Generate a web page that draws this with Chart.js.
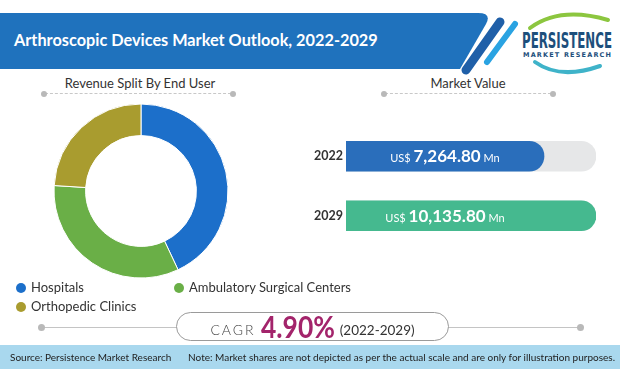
<!DOCTYPE html>
<html>
<head>
<meta charset="utf-8">
<script src="https://cdn.jsdelivr.net/npm/chart.js@4"></script>
<style>
  html, body { margin: 0; padding: 0; }
  body { width: 620px; height: 369px; position: relative; overflow: hidden; background: #fff; font-family: Lato, "Open Sans", sans-serif; color: #333; }
  .abs { position: absolute; }
  .title { color: #fff; font-weight: bold; font-size: 16.3px; left: 14px; top: 30px; }
  .sec { font-size: 13px; color: #333; text-align: center; }
  .dash { height: 0; border-top: 1.5px dashed #c8c8c8; }
  .dot { width: 6px; height: 6px; border-radius: 50%; background: #b9b9b9; }
  #legend { left: 16px; top: 279px; display: grid; grid-template-columns: 158px auto; row-gap: 3px; font-size: 13px; color: #333; }
  #legend div { line-height: 16px; }
  #legend span.sw { display: inline-block; width: 10px; height: 10px; border-radius: 50%; margin-right: 5px; vertical-align: -1px; }
  .pill { left: 176px; top: 312px; width: 271px; height: 27px; border: 1px solid #9a9a9a; border-radius: 15px; background: #fff; text-align: center; white-space: nowrap; }
  .big { display: inline-block; font-size: 30px; font-weight: bold; color: #a3246b; line-height: 27px; transform: scaleX(0.88); margin: 0 -4px; }
  .footer { left: 0; top: 345px; width: 620px; height: 24px; background: #a9d8ee; font-size: 10px; color: #222; }
</style>
</head>
<body>
<svg class="abs" style="left:0;top:0" width="620" height="100">
  <path d="M0 13 H478 Q492 13 486 24 L460 69 H0 Z" fill="#1f72bd"/>
  <line x1="466" y1="70" x2="500" y2="22" stroke="#1f5fa8" stroke-width="9" stroke-linecap="round"/>
  <line x1="487" y1="62" x2="515" y2="24" stroke="#2aa3e2" stroke-width="6" stroke-linecap="round"/>
  <path d="M530 28 Q560 6 608 20" fill="none" stroke="#8cc63f" stroke-width="4" stroke-linecap="round"/>
  <path d="M535 62 Q560 80 600 66" fill="none" stroke="#3fb3c9" stroke-width="4" stroke-linecap="round"/>
  <text x="522" y="48" font-family="'Liberation Sans Narrow','DejaVu Sans Condensed',sans-serif" font-weight="bold" font-size="22" fill="#1d4f7c" textLength="90" lengthAdjust="spacingAndGlyphs">PERSISTENCE</text>
  <text x="523" y="57" font-family="'DejaVu Sans',sans-serif" font-weight="bold" font-size="6.5" fill="#1d4f7c" textLength="88" lengthAdjust="spacing">MARKET RESEARCH</text>
</svg>
<div class="abs title">Arthroscopic Devices Market Outlook, 2022-2029</div>

<div class="abs sec" style="left:40px;top:75px;width:200px">Revenue Split By End User</div>
<div class="abs dash" style="left:45px;top:93px;width:186px"></div>
<div class="abs dot" style="left:41px;top:91px"></div>
<div class="abs dot" style="left:230px;top:91px"></div>

<div class="abs sec" style="left:368px;top:75px;width:200px">Market Value</div>
<div class="abs dash" style="left:385px;top:93px;width:166px"></div>
<div class="abs dot" style="left:381px;top:91px"></div>
<div class="abs dot" style="left:550px;top:91px"></div>

<div class="abs" style="left:0;top:101px;width:282px;height:180px"><canvas id="donut"></canvas></div>
<div id="legend" class="abs"></div>

<div class="abs" style="left:300px;top:116px;width:296px;height:140px"><canvas id="bars"></canvas></div>

<div class="abs" style="left:43px;top:327px;width:536px;height:1px;background:#c4c4c4"></div>
<div class="abs dot" style="left:38px;top:324px;width:7px;height:7px"></div>
<div class="abs dot" style="left:577px;top:324px;width:7px;height:7px"></div>
<div class="abs pill">
  <span style="font-size:14px;letter-spacing:2px;color:#444;font-weight:300;vertical-align:3px">CAGR</span>
  <span class="big">4.90%</span>
  <span style="font-size:13.5px;color:#333;vertical-align:3px">(2022-2029)</span>
</div>

<div class="abs footer">
  <span class="abs" style="left:10px;top:6px">Source: Persistence Market Research</span>
  <span class="abs" style="right:5px;top:6px">Note: Market shares are not depicted as per the actual scale and are only for illustration purposes.</span>
</div>

<script>
const endUsers = ['Hospitals', 'Ambulatory Surgical Centers', 'Orthopedic Clinics'];
const endUserShare = [43, 33, 24];
const endUserColors = ['#1c6fca', '#6aaf47', '#a99c2f'];

const years = ['2022', '2029'];
const marketValues = [7264.80, 10135.80];
const barColors = ['#2a6ebb', '#45b98f'];
// bars are not to scale in the original, axis starts below zero
const axisMin = -3670;

new Chart(document.getElementById('donut'), {
  type: 'doughnut',
  data: {
    labels: endUsers,
    datasets: [{
      data: endUserShare,
      backgroundColor: endUserColors,
      borderColor: '#fff',
      borderWidth: 1,
      radius: 87,
      cutout: 57
    }]
  },
  options: {
    responsive: true,
    maintainAspectRatio: false,
    animation: false,
    plugins: { legend: { display: false }, tooltip: { enabled: false } }
  }
});

const legend = document.getElementById('legend');
endUsers.forEach((name, i) => {
  const d = document.createElement('div');
  d.innerHTML = '<span class="sw" style="background:' + endUserColors[i] + '"></span>' + name;
  legend.appendChild(d);
});

const fmt = v => v.toLocaleString('en-US', { minimumFractionDigits: 2, maximumFractionDigits: 2 });

const valueLabels = {
  id: 'valueLabels',
  afterDatasetsDraw(chart) {
    const ctx = chart.ctx;
    const meta = chart.getDatasetMeta(0);
    meta.data.forEach((bar, i) => {
      const parts = [
        { t: 'US$ ', f: '11px Lato, sans-serif' },
        { t: fmt(marketValues[i]), f: 'bold 17px Lato, sans-serif' },
        { t: ' Mn', f: '11px Lato, sans-serif' }
      ];
      let w = 0;
      parts.forEach(p => { ctx.font = p.f; p.w = ctx.measureText(p.t).width; w += p.w; });
      let x = chart.chartArea.left + 99 - w / 2;
      ctx.save();
      ctx.fillStyle = '#fff';
      ctx.textBaseline = 'alphabetic';
      parts.forEach(p => { ctx.font = p.f; ctx.fillText(p.t, x, bar.y + 6); x += p.w; });
      ctx.restore();
    });
  }
};

new Chart(document.getElementById('bars'), {
  type: 'bar',
  data: {
    labels: years,
    datasets: [
      {
        data: marketValues,
        backgroundColor: barColors,
        base: axisMin,
        borderRadius: 15,
        borderSkipped: 'start',
        barThickness: 30,
        order: 1
      },
      {
        data: years.map(() => Math.max(...marketValues)),
        backgroundColor: '#e6e7e8',
        base: axisMin,
        borderRadius: 15,
        borderSkipped: 'start',
        barThickness: 30,
        order: 2
      }
    ]
  },
  options: {
    indexAxis: 'y',
    responsive: true,
    maintainAspectRatio: false,
    animation: false,
    layout: { padding: 0 },
    datasets: { bar: { grouped: false } },
    scales: {
      x: { display: false, min: axisMin, max: Math.max(...marketValues) },
      y: {
        grid: { display: false, drawTicks: false },
        border: { display: false },
        afterFit(scale) { scale.width = 46; },
        ticks: { padding: 3, color: '#333', font: { family: 'Lato', weight: 'bold', size: 12.5 } }
      }
    },
    plugins: { legend: { display: false }, tooltip: { enabled: false } }
  },
  plugins: [valueLabels]
});
</script>
</body>
</html>
